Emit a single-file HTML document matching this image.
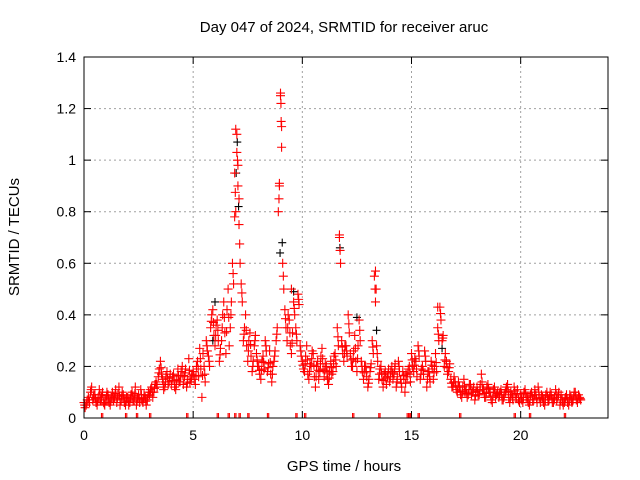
<!DOCTYPE html>
<html><head><meta charset="utf-8"><style>
body{margin:0;background:#fff;}
svg{display:block;font-family:"Liberation Sans",sans-serif;}
</style></head><body>
<svg id="chart" width="640" height="480">
<rect x="0" y="0" width="640" height="480" fill="#fff"/>
<text x="344" y="32" font-size="15" text-anchor="middle">Day 047 of 2024, SRMTID for receiver aruc</text>
<text x="344" y="471" font-size="15" text-anchor="middle">GPS time / hours</text>
<text transform="translate(19,237) rotate(-90)" font-size="15" text-anchor="middle">SRMTID / TECUs</text>
<g id="grid"></g><g id="ticks"></g><g id="marks"></g>
<rect x="84" y="57" width="524" height="361" fill="none" stroke="#000" stroke-width="1"/>
</svg>
<script>
const xTicks=[0,5,10,15,20];
const yTicks=[0,0.2,0.4,0.6,0.8,1,1.2,1.4];
const yTickLabels=["0","0.2","0.4","0.6","0.8","1","1.2","1.4"];
const valsA=[.06,.05,.08,.10,.07,.09,.05,.11,.08,.06,
.07,.09,.05,.10,.08,.06,.12,.07,.09,.05,
.08,.06,.10,.07,.05,.09,.11,.06,.08,.07,
.09,.12,.10,.14,.16,.22,.15,.12,.18,.14,
.13,.17,.11,.19,.14,.20,.16,.12,.23,.15,
.18,.13,.22,.27,.08,.20,.30,.24,.35,.42,
.28,.38,.22,.30,.45,.25,.50,.35,.60,.95,
1.10,.75,.52,.30,.40,.22,.33,.18,.28,.25,
.20,.15,.24,.30,.18,.26,.14,.22,.30,.80,
1.25,.60,.42,.30,.38,.25,.45,.35,.48,.28,
.22,.18,.28,.15,.20,.25,.12,.22,.18,.27,
.16,.20,.13,.22,.18,.25,.35,.70,.30,.22,
.28,.40,.25,.20,.32,.18,.38,.22,.15,.20,
.12,.18,.30,.55,.28,.15,.20,.12,.18,.16,
.14,.20,.17,.12,.22,.15,.18,.10,.16,.20,
.25,.18,.22,.28,.15,.20,.26,.12,.18,.22,
.15,.25,.35,.43,.30,.20,.22,.18,.15,.12,
.14,.10,.12,.08,.15,.11,.09,.13,.10,.07,
.12,.09,.17,.11,.08,.13,.10,.06,.12,.09,
.08,.11,.07,.10,.13,.06,.09,.12,.08,.07,
.09,.06,.11,.08,.05,.10,.07,.09,.12,.06,
.08,.05,.10,.07,.09,.06,.11,.08,.05,.07,
.06,.09,.05,.08,.07,.10,.06,.08];
const valsB=[.04,.07,.06,.12,.09,.06,.08,.07,.10,.05,
.10,.06,.08,.07,.11,.09,.05,.10,.06,.08,
.05,.09,.07,.12,.08,.06,.07,.09,.05,.10,
.11,.08,.13,.12,.19,.17,.11,.16,.13,.17,
.16,.12,.15,.14,.18,.13,.19,.15,.14,.17,
.15,.20,.16,.19,.25,.14,.26,.20,.40,.32,
.36,.30,.27,.40,.33,.42,.28,.45,.52,.80,
.90,.60,.45,.35,.28,.30,.24,.22,.32,.20,
.17,.22,.19,.26,.21,.17,.20,.26,.35,.90,
1.05,.50,.35,.40,.28,.33,.40,.30,.44,.24,
.19,.24,.17,.21,.26,.16,.20,.15,.24,.19,
.21,.15,.18,.17,.24,.20,.28,.60,.25,.28,
.24,.33,.20,.26,.22,.28,.30,.18,.20,.16,
.15,.21,.25,.45,.22,.19,.15,.17,.13,.19,
.18,.15,.21,.16,.18,.12,.15,.17,.19,.14,
.20,.23,.16,.24,.19,.17,.22,.18,.14,.19,
.20,.18,.30,.38,.32,.25,.17,.21,.12,.16,
.11,.14,.09,.12,.10,.08,.13,.09,.12,.10,
.09,.13,.11,.08,.12,.10,.07,.11,.08,.10,
.10,.07,.09,.12,.08,.10,.07,.09,.11,.06,
.07,.10,.08,.06,.09,.07,.11,.06,.08,.09,
.06,.09,.07,.10,.06,.08,.07,.10,.09,.05,
.08,.06,.09,.06,.10,.07,.09,.07];
const spikeTimes=[6.95,7.0,7.05,7.1,6.9,9.0,9.02,9.05,8.95,11.7,13.35,13.38,16.2,9.5];
const spikeVals=[1.12,1.03,0.98,0.85,0.78,1.26,1.22,1.13,0.91,0.71,0.57,0.50,0.43,0.50];
const blackTimes=[6.97,7.02,7.08,8.98,9.08,11.72,13.4,6.0,9.6,12.5,16.4,5.9];
const blackVals=[0.95,1.07,0.82,0.64,0.68,0.66,0.34,0.45,0.49,0.39,0.27,0.30];
const zeroTimes=[0.8,1.9,2.4,3.0,4.7,6.1,6.6,6.9,7.1,7.5,8.4,9.7,10.1,12.3,13.5,14.8,14.9,15.3,17.2,19.7,20.4,22.0];

const X0=84,X1=608,Y0=418,Y1=57;
const xs=t=>X0+t/24*(X1-X0);
const ys=v=>Y0-v/1.4*(Y0-Y1);
const NS="http://www.w3.org/2000/svg";
const grid=document.getElementById('grid'),ticks=document.getElementById('ticks'),marks=document.getElementById('marks');
function mk(tag,attrs,parent){const e=document.createElementNS(NS,tag);for(const k in attrs)e.setAttribute(k,attrs[k]);parent.appendChild(e);return e;}
yTicks.forEach((v,i)=>{const y=ys(v);
 if(i>0&&i<yTicks.length-1){const g=mk('line',{x1:X0,x2:X1,y1:y,y2:y,stroke:'#a0a0a0','stroke-dasharray':'2,3'},grid);
 
 }
 mk('line',{x1:X0,x2:X0+7,y1:y,y2:y,stroke:'#000'},ticks);
 mk('line',{x1:X1,x2:X1-7,y1:y,y2:y,stroke:'#000'},ticks);
 const t=mk('text',{x:X0-8,y:y+5,'font-size':14,'text-anchor':'end'},ticks);t.textContent=yTickLabels[i];
 
 
});
xTicks.forEach(v=>{const x=xs(v);
 if(v>0){const g=mk('line',{x1:x,x2:x,y1:Y0,y2:Y1,stroke:'#a0a0a0','stroke-dasharray':'2,3'},grid);
 
 }
 mk('line',{x1:x,x2:x,y1:Y0,y2:Y0-7,stroke:'#000'},ticks);
 mk('line',{x1:x,x2:x,y1:Y1,y2:Y1+7,stroke:'#000'},ticks);
 const t=mk('text',{x:x,y:Y0+22,'font-size':14,'text-anchor':'middle'},ticks);t.textContent=String(v);
 
 
});
function plus(t,v,color,name,s){const x=xs(t),y=ys(v);
 const p=mk('path',{d:`M${x-s} ${y}H${x+s}M${x} ${y-s}V${Math.min(y+s,Y0)}`,stroke:color,'stroke-width':1.1,fill:'none'},marks);
 
 
}
blackTimes.forEach((t,i)=>plus(t,blackVals[i],'#000','black-point',4));
valsA.forEach((v,i)=>plus(i*0.1,v,'#f00','red-point',4.5));
valsB.forEach((v,i)=>plus(i*0.1+0.05,v,'#f00','red-point',4.5));
valsA.forEach((v,i)=>plus(i*0.1+0.03,(v+valsB[i])/2,'#f00','red-point',4.5));
spikeTimes.forEach((t,i)=>plus(t,spikeVals[i],'#f00','red-spike-point',4.5));
zeroTimes.forEach(t=>{plus(t,0,'#f00','red-zero-point',5);plus(t+0.06,0,'#f00','red-zero-point',5);});
</script>
</body></html>
